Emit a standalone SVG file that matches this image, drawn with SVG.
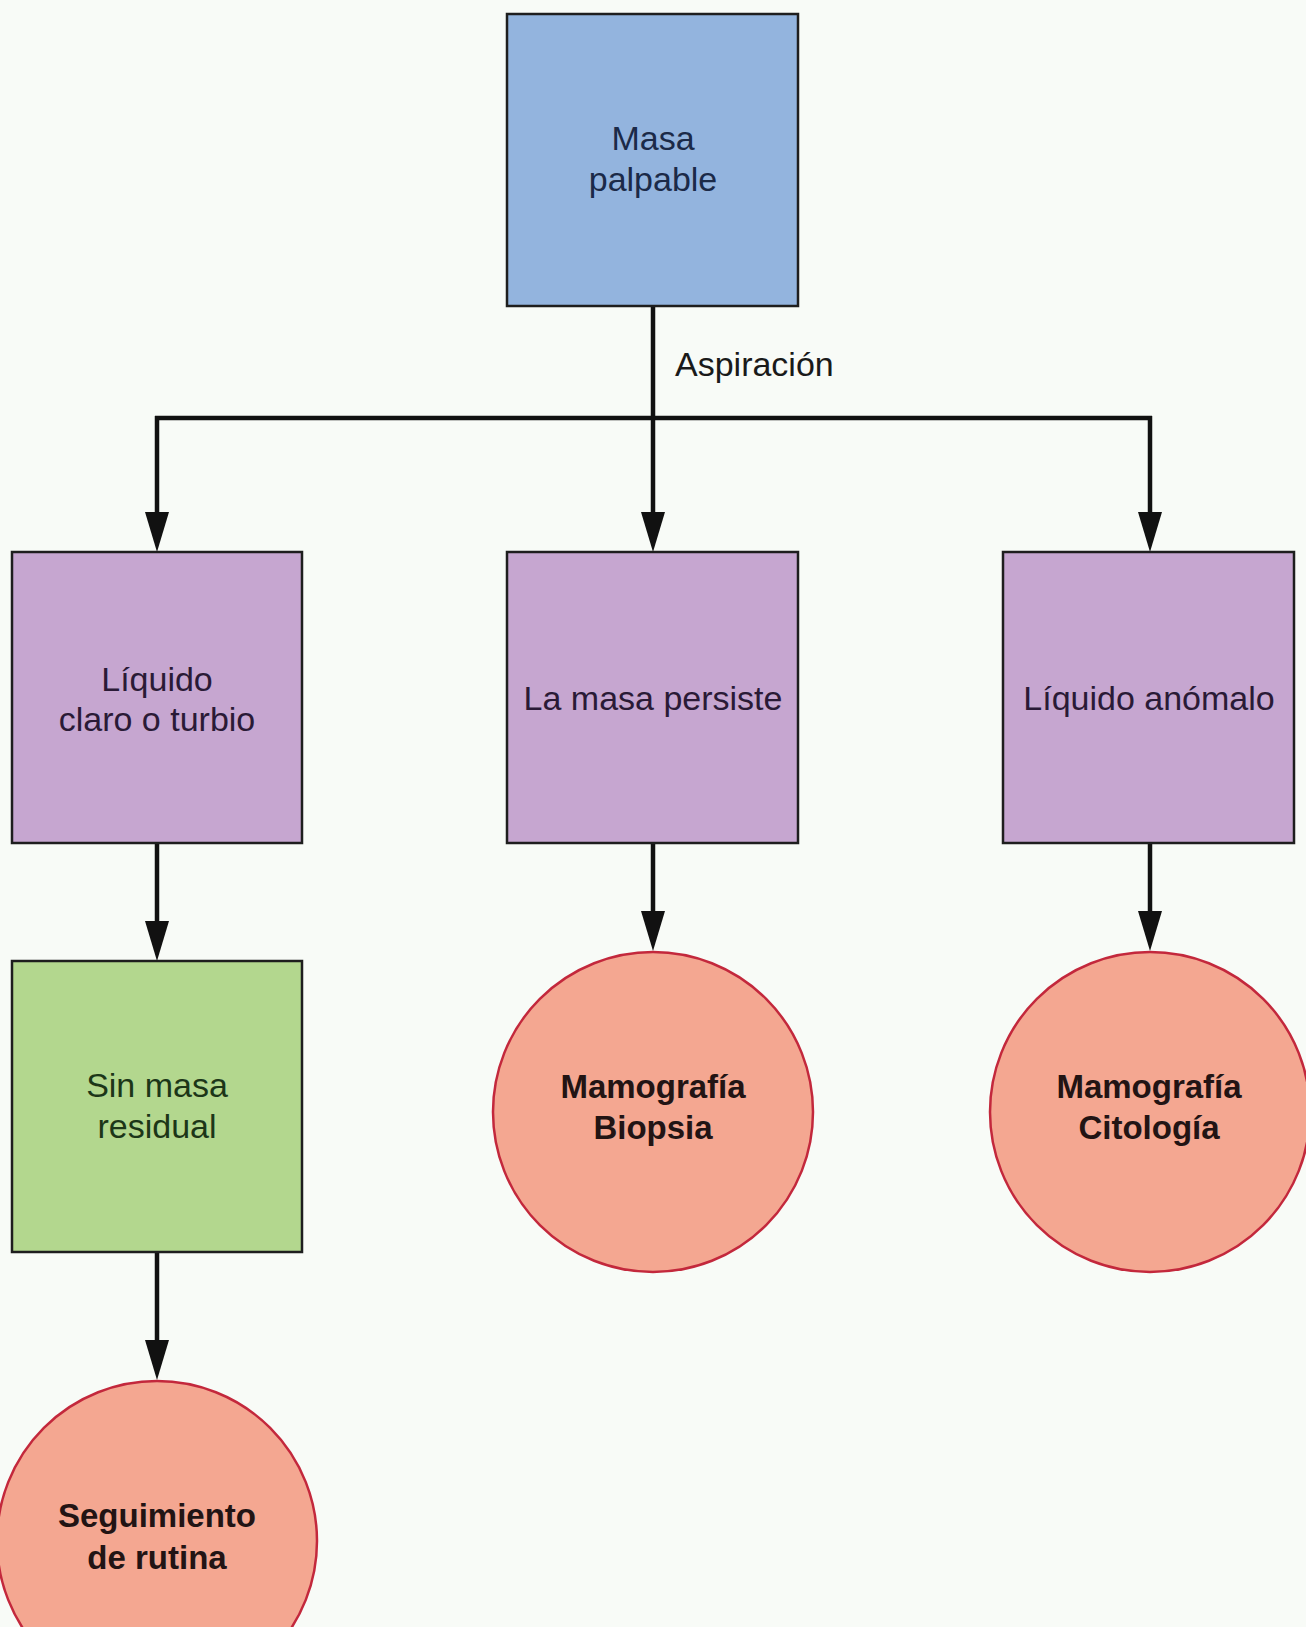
<svg xmlns="http://www.w3.org/2000/svg" width="1306" height="1627" viewBox="0 0 1306 1627">
<style>
.box{stroke:#1e1e1e;stroke-width:2.5}
.blue{fill:#93b4de}
.purple{fill:#c6a6d0}
.green{fill:#b3d78e}
.circ{fill:#f4a791;stroke:#c3283c;stroke-width:2.5}
.t{font-family:"Liberation Sans",Arial,sans-serif;font-size:34px;text-anchor:middle}
.b{font-family:"Liberation Sans",Arial,sans-serif;font-size:33px;font-weight:bold;text-anchor:middle;fill:#221414}
.conn{fill:none;stroke:#111;stroke-width:4.5}
</style>
<defs>
<marker id="arr" markerUnits="userSpaceOnUse" markerWidth="40" markerHeight="24" refX="0" refY="12" orient="auto" viewBox="0 0 40 24">
<path d="M0 0 L40 12 L0 24 Z" fill="#111"/>
</marker>
</defs>
<rect width="1306" height="1627" fill="#f8fbf7"/>
<g id="connectors">
<path class="conn" d="M653 306 V418 M155 418 H1152"/>
<path class="conn" d="M157 416 V512" marker-end="url(#arr)"/>
<path class="conn" d="M653 418 V512" marker-end="url(#arr)"/>
<path class="conn" d="M1150 416 V512" marker-end="url(#arr)"/>
<path class="conn" d="M157 843 V921" marker-end="url(#arr)"/>
<path class="conn" d="M653 843 V911" marker-end="url(#arr)"/>
<path class="conn" d="M1150 843 V911" marker-end="url(#arr)"/>
<path class="conn" d="M157 1252 V1340" marker-end="url(#arr)"/>
</g>
<g id="masa-palpable">
<rect class="box blue" x="507" y="14" width="291" height="292"/>
<text class="t" x="653" y="150" fill="#1b2a48">Masa</text>
<text class="t" x="653" y="191" fill="#1b2a48">palpable</text>
</g>
<text id="aspiracion" class="t" x="675" y="376" style="text-anchor:start" fill="#1a1a1a">Aspiración</text>
<g id="liquido-claro">
<rect class="box purple" x="12" y="552" width="290" height="291"/>
<text class="t" x="157" y="691" fill="#2a1a36">Líquido</text>
<text class="t" x="157" y="731" fill="#2a1a36">claro o turbio</text>
</g>
<g id="masa-persiste">
<rect class="box purple" x="507" y="552" width="291" height="291"/>
<text class="t" x="653" y="710" fill="#2a1a36">La masa persiste</text>
</g>
<g id="liquido-anomalo">
<rect class="box purple" x="1003" y="552" width="291" height="291"/>
<text class="t" x="1149" y="710" fill="#2a1a36">Líquido anómalo</text>
</g>
<g id="sin-masa">
<rect class="box green" x="12" y="961" width="290" height="291"/>
<text class="t" x="157" y="1097" fill="#1c3618">Sin masa</text>
<text class="t" x="157" y="1138" fill="#1c3618">residual</text>
</g>
<g id="mamografia-biopsia">
<circle class="circ" cx="653" cy="1112" r="160"/>
<text class="b" x="653" y="1098">Mamografía</text>
<text class="b" x="653" y="1139">Biopsia</text>
</g>
<g id="mamografia-citologia">
<circle class="circ" cx="1150" cy="1112" r="160"/>
<text class="b" x="1149" y="1098">Mamografía</text>
<text class="b" x="1149" y="1139">Citología</text>
</g>
<g id="seguimiento">
<circle class="circ" cx="157" cy="1541" r="160"/>
<text class="b" x="157" y="1527">Seguimiento</text>
<text class="b" x="157" y="1569">de rutina</text>
</g>
</svg>
